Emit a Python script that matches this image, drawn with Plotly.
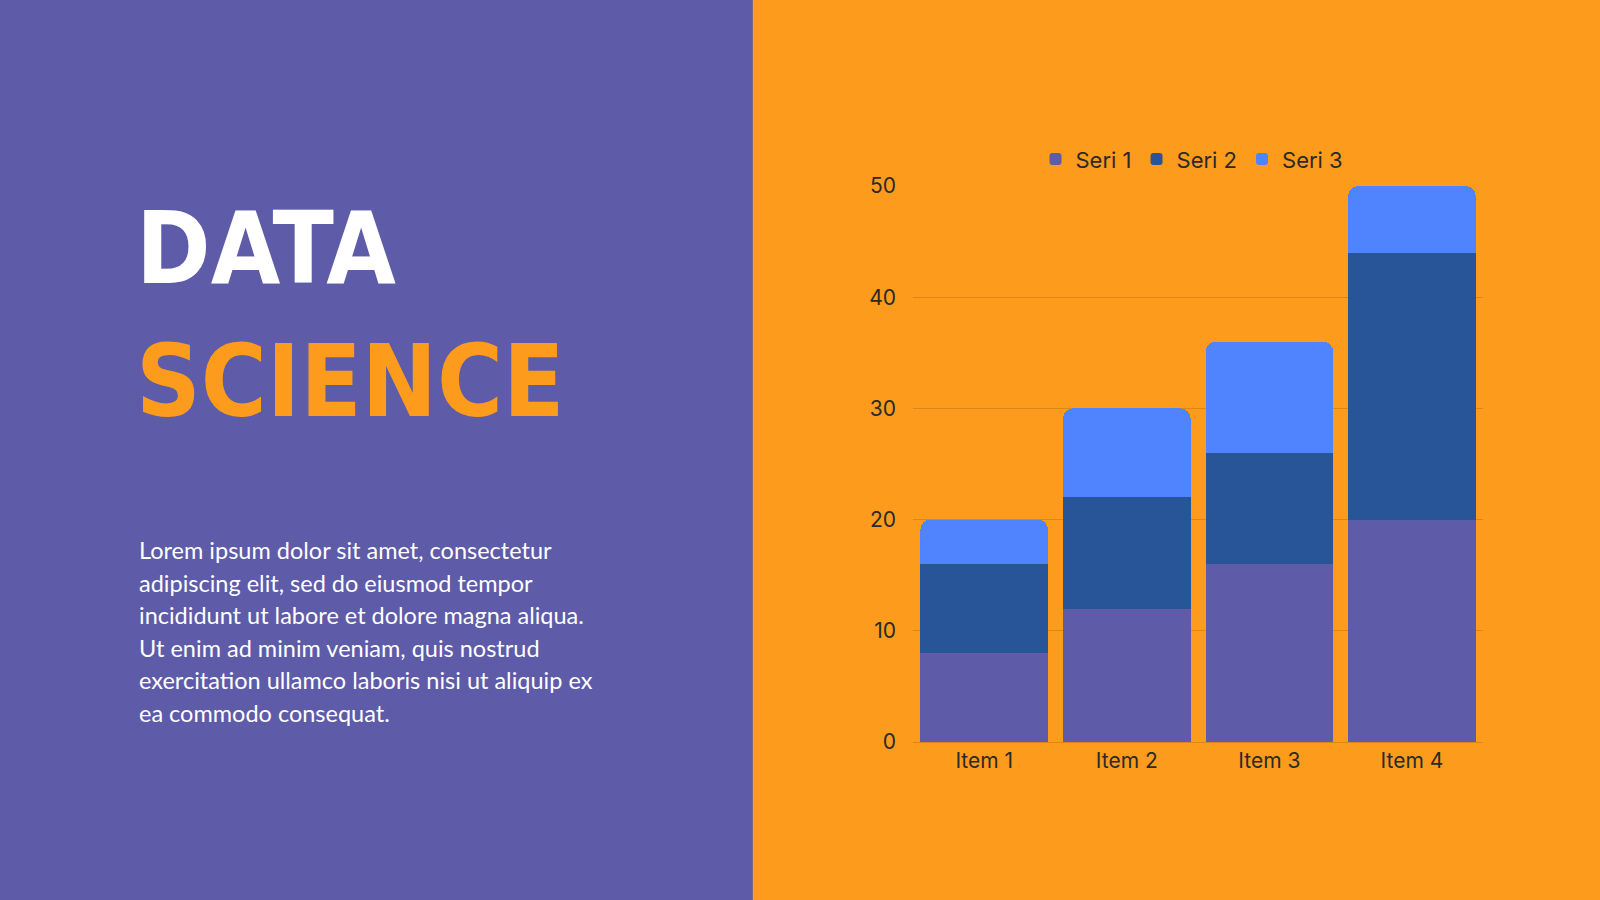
import plotly.graph_objects as go

# chart data
items = ["Item 1", "Item 2", "Item 3", "Item 4"]
seri_1 = [8, 12, 16, 20]
seri_2 = [8, 10, 10, 24]
seri_3 = [4, 8, 10, 6]
series_names = ["Seri 1", "Seri 2", "Seri 3"]

body_lines = [
    "Lorem ipsum dolor sit amet, consectetur",
    "adipiscing elit, sed do eiusmod tempor",
    "incididunt ut labore et dolore magna aliqua.",
    "Ut enim ad minim veniam, quis nostrud",
    "exercitation ullamco laboris nisi ut aliquip ex",
    "ea commodo consequat.",
]

PURPLE = "#5E5BA8"
ORANGE = "#FD9C1C"
NAVY = "#285597"
BLUE = "#5084FF"

fig = go.Figure()
for name, vals, col in zip(series_names, [seri_1, seri_2, seri_3], [PURPLE, NAVY, BLUE]):
    fig.add_trace(go.Bar(x=items, y=vals, name=name, marker_color=col,
                         marker_line_width=0))

fig.update_layout(
    width=1600, height=900,
    margin=dict(l=0, r=0, t=0, b=0, autoexpand=False),
    paper_bgcolor=ORANGE, plot_bgcolor=ORANGE,
    barmode="stack", bargap=0.105, barcornerradius=10,
    font=dict(family="Inter, Noto Sans, sans-serif", color="#2a2a2a", size=21),
    legend=dict(orientation="h", x=0.745, xanchor="center", y=0.823, yanchor="middle",
                font=dict(size=22, color="#2a2a2a"), bgcolor="rgba(0,0,0,0)",
                traceorder="normal"),
    showlegend=True,
)
fig.update_xaxes(domain=[0.5706, 0.927], showgrid=False, ticks="", tickfont=dict(size=21),
                 showline=True, linecolor="#D9861A", linewidth=1)
fig.update_yaxes(range=[0, 50], dtick=10, showgrid=True, gridcolor="#DC8818", gridwidth=1,
                 zeroline=False, ticks="", ticklabelstandoff=16, tickfont=dict(size=21))
fig.update_layout(yaxis=dict(domain=[0.1756, 0.7933]))

# left purple panel
fig.add_shape(type="rect", xref="paper", yref="paper", x0=-0.05, x1=0.4705, y0=-0.1, y1=1.1,
              fillcolor=PURPLE, line_width=0, layer="below")

title_font = "DejaVu Sans Condensed, Liberation Sans Narrow, sans-serif"
fig.add_annotation(text="<b>DATA</b>", xref="paper", yref="paper", x=0.084, y=1 - 248 / 900,
                   xanchor="left", yanchor="middle", showarrow=False,
                   font=dict(family=title_font, size=100, color="white"))
fig.add_annotation(text="<b>SCIENCE</b>", xref="paper", yref="paper", x=0.084, y=1 - 381 / 900,
                   xanchor="left", yanchor="middle", showarrow=False,
                   font=dict(family=title_font, size=100, color=ORANGE))

for i, line in enumerate(body_lines):
    fig.add_annotation(text=line, xref="paper", yref="paper", x=0.0855,
                       y=1 - (550 + i * 32.6) / 900, xanchor="left", yanchor="middle",
                       showarrow=False,
                       font=dict(family="Lato, Open Sans, sans-serif", size=23.5, color="white"))

fig.write_html("out.html", config={"displayModeBar": False},
               post_script="document.body.style.margin='0';")
